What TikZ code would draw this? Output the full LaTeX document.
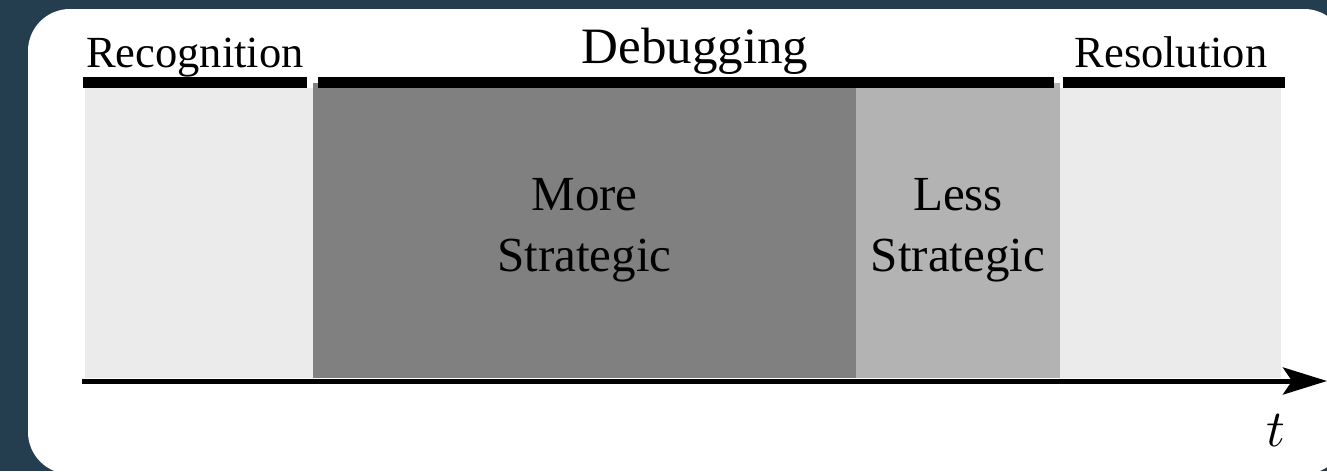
\documentclass[tikz,border=0pt]{standalone}
\usepackage{fontspec}
\setmainfont{Liberation Serif}
\usetikzlibrary{arrows.meta}
\definecolor{slate}{HTML}{243E50}
\definecolor{paleband}{HTML}{EBEBEB}
\definecolor{darkband}{HTML}{808080}
\definecolor{midband}{HTML}{B3B3B3}
\begin{document}
\begin{tikzpicture}[x=1pt,y=-1pt,
  band/.style={inner sep=0pt, outer sep=0pt, align=center,
    font=\fontsize{49}{61}\selectfont},
  phase/.style={anchor=base, inner sep=0pt, font=\fontsize{44.5}{52}\selectfont},
  phasebar/.style={line width=11pt},
  timeaxis/.style={line width=5pt, -{Stealth[length=44pt, width=27pt, inset=9pt]}}]
\useasboundingbox (0,0) rectangle (1327,471);
\fill[slate] (0,0) rectangle (1327,471);
\fill[white, rounded corners=42pt] (28,9) rectangle (1346,474);

% phase regions along the time axis
\node[band, fill=paleband, minimum width=228pt, minimum height=290pt] (recband) at (199,233) {};
\node[band, fill=darkband, minimum width=543pt, minimum height=295pt] (moreband) at (584.5,230.5) {More\\Strategic};
\node[band, fill=midband, minimum width=204pt, minimum height=295pt] (lessband) at (958,230.5) {Less\\Strategic};
\node[band, fill=paleband, minimum width=221pt, minimum height=290pt] (resband) at (1170.5,233) {};

% phase bars
\draw[phasebar] (83,82.5) -- (307,82.5);
\draw[phasebar] (318,82.5) -- (1054,82.5);
\draw[phasebar] (1063,82.5) -- (1285,82.5);

% phase titles
\node[phase] (rec) at (195,67) {Recognition};
\node[phase, font=\fontsize{51}{60}\selectfont] (dbg) at (695,63) {Debugging};
\node[phase] (res) at (1171,67) {Resolution};

% time axis
\coordinate (ax0) at (82,381);
\coordinate (ax1) at (1327,381);
\draw[timeaxis] (ax0) -- (ax1);
\node[anchor=base, inner sep=0pt, scale=5.2] (tlab) at (1276,446) {$t$};
\end{tikzpicture}
\end{document}
